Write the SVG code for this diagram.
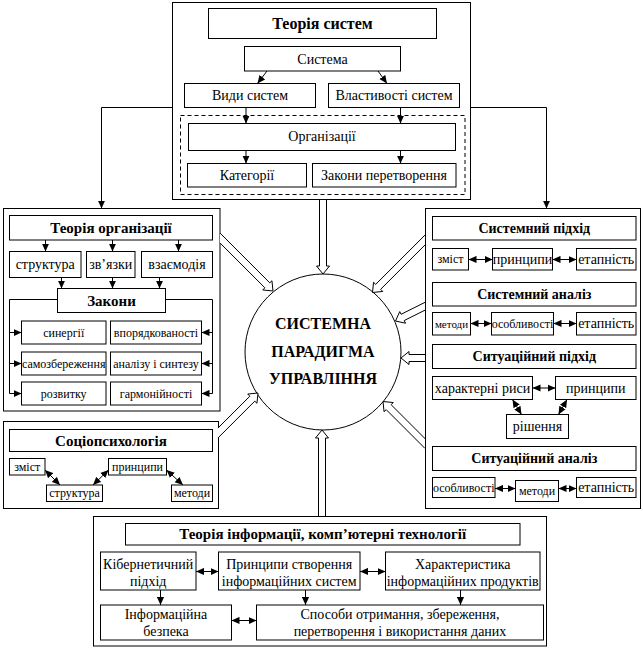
<svg xmlns="http://www.w3.org/2000/svg" width="643" height="648" viewBox="0 0 643 648" font-family="'Liberation Serif', 'DejaVu Serif', serif">
<defs>
<marker id="ah" viewBox="0 0 10 10" refX="10" refY="5" markerWidth="8" markerHeight="8" markerUnits="userSpaceOnUse" orient="auto-start-reverse"><path d="M0,0.5 L10,5 L0,9.5 z" fill="#000"/></marker>
</defs>
<style>
rect{fill:#fff;stroke:#000;stroke-width:1}
.dash{fill:none;stroke-dasharray:4,3}
text{font-family:'Liberation Serif','DejaVu Serif',serif;fill:#000;text-anchor:middle;dominant-baseline:central}
.t14{font-size:14px}
.t12{font-size:12px}
.t11{font-size:11px}
.b{font-weight:bold;font-size:15px}
.c{font-weight:bold;font-size:16px}
.ln{fill:none;stroke:#000;stroke-width:1}
.a1{marker-end:url(#ah)}
.a2{marker-start:url(#ah);marker-end:url(#ah)}
.ha{fill:#fff;stroke:#000;stroke-width:1}
</style>
<rect x="0" y="0" width="643" height="648" style="stroke:none"/>

<g id="teoriya-system">
<rect x="172.5" y="2.5" width="298" height="197"/>
<rect x="208.5" y="8.5" width="228" height="30"/>
<text class="c" x="322.5" y="23.5">Теорія систем</text>
<rect x="244.5" y="46.5" width="156" height="24.5"/>
<text class="t14" x="322.5" y="59">Система</text>
<rect x="184.5" y="83.5" width="131" height="24"/>
<text class="t14" x="250" y="95.5">Види систем</text>
<rect x="328.5" y="83.5" width="131" height="24"/>
<text class="t14" x="394" y="95.5">Властивості систем</text>
<rect class="dash" x="180.5" y="115.5" width="284.5" height="79"/>
<rect x="188.5" y="123.5" width="267" height="27"/>
<text class="t14" x="322" y="136">Організації</text>
<rect x="187.5" y="163.5" width="119" height="23.5"/>
<text class="t14" x="247" y="175">Категорії</text>
<rect x="312.5" y="163.5" width="143.5" height="23.5"/>
<text class="t14" x="384" y="175">Закони перетворення</text>
</g>

<g id="teoriya-organizatsii">
<rect x="3.5" y="208.5" width="216.5" height="202.5"/>
<rect x="9.5" y="215.5" width="203" height="24.5"/>
<text class="b" x="111" y="227.5">Теорія організації</text>
<rect x="9.5" y="251.5" width="71.5" height="26"/>
<text class="t14" x="45.2" y="264.5">структура</text>
<rect x="86.5" y="251.5" width="48.5" height="26"/>
<text class="t14" x="110.7" y="264.5">зв’язки</text>
<rect x="141.5" y="251.5" width="71" height="26"/>
<text class="t14" x="177" y="264.5">взаємодія</text>
<rect x="57.5" y="288.5" width="108" height="24"/>
<text class="b" x="111.5" y="300.5">Закони</text>
<rect x="21.5" y="321" width="84.5" height="23"/>
<text class="t12" x="63.7" y="332.5">синергії</text>
<rect x="110.5" y="321" width="91" height="23"/>
<text class="t12" x="156" y="332.5">впорядкованості</text>
<rect x="21.5" y="352" width="84.5" height="23"/>
<text class="t12" x="63.7" y="363.5">самозбереження</text>
<rect x="110.5" y="352" width="91" height="23"/>
<text class="t12" x="156" y="363.5">аналізу і синтезу</text>
<rect x="21.5" y="382" width="84.5" height="23"/>
<text class="t12" x="63.7" y="393.5">розвитку</text>
<rect x="110.5" y="382" width="91" height="23"/>
<text class="t12" x="156" y="393.5">гармонійності</text>
</g>

<g id="sotsiopsykholohiya">
<rect x="3.5" y="421.5" width="215" height="87"/>
<rect x="9.5" y="429.5" width="203" height="22"/>
<text class="b" x="111" y="440.5">Соціопсихологія</text>
<rect x="9.5" y="458.5" width="35.5" height="16.5"/>
<text class="t12" x="27.2" y="466.7">зміст</text>
<rect x="46.5" y="485" width="56" height="16.5"/>
<text class="t12" x="74.5" y="493.2">структура</text>
<rect x="108.5" y="458.5" width="58" height="16.5"/>
<text class="t12" x="137.5" y="466.7">принципи</text>
<rect x="171.5" y="485" width="41" height="16.5"/>
<text class="t12" x="192" y="493.2">методи</text>
</g>

<g id="pravyi-blok">
<rect x="425.5" y="208.5" width="215" height="300"/>
<rect x="432.5" y="216.5" width="203.5" height="23.5"/>
<text class="b" x="534.3" y="228.3" style="font-size:14px">Системний підхід</text>
<rect x="432.5" y="248.5" width="36" height="21.5"/>
<text class="t12" x="450.5" y="259.2">зміст</text>
<rect x="492.5" y="248.5" width="60" height="21.5"/>
<text class="t14" x="522.5" y="259.2">принципи</text>
<rect x="576.5" y="248.5" width="59.5" height="21.5"/>
<text class="t14" x="606.2" y="259.2">етапність</text>
<rect x="432.5" y="282.5" width="203.5" height="23.5"/>
<text class="b" x="534.3" y="294.3" style="font-size:14px">Системний аналіз</text>
<rect x="432.5" y="312.5" width="38" height="22.5"/>
<text class="t11" x="451.5" y="323.7">методи</text>
<rect x="491.5" y="312.5" width="62" height="22.5"/>
<text class="t12" x="522.5" y="323.7">особливості</text>
<rect x="576.5" y="312.5" width="59.5" height="22.5"/>
<text class="t14" x="606.2" y="323.7">етапність</text>
<rect x="432.5" y="344.5" width="203.5" height="24"/>
<text class="b" x="534.3" y="356.5" style="font-size:14px">Ситуаційний підхід</text>
<rect x="432.5" y="376.5" width="100" height="23"/>
<text class="t14" x="482.5" y="388">характерні риси</text>
<rect x="555.5" y="376.5" width="80.5" height="23"/>
<text class="t14" x="595.7" y="388">принципи</text>
<rect x="506.5" y="414.5" width="62" height="24"/>
<text class="t14" x="537.5" y="426.5">рішення</text>
<rect x="432.5" y="446.5" width="203.5" height="24"/>
<text class="b" x="534.3" y="458.5" style="font-size:14px">Ситуаційний аналіз</text>
<rect x="432.5" y="477.5" width="62.5" height="20"/>
<text class="t12" x="463.7" y="487.5">особливості</text>
<rect x="515.5" y="480.5" width="43" height="21"/>
<text class="t12" x="537" y="491">методи</text>
<rect x="576.5" y="477.5" width="59.5" height="20"/>
<text class="t14" x="606.2" y="487.5">етапність</text>
</g>

<g id="teoriya-informatsii">
<rect x="93.5" y="516.5" width="453" height="129.5"/>
<rect x="125.5" y="523.5" width="394.5" height="21.5"/>
<text class="b" x="322.7" y="534.2">Теорія інформації, комп’ютерні технології</text>
<rect x="100.5" y="552" width="95.5" height="38"/>
<text class="t14" x="148.2" y="564">Кібернетичний</text>
<text class="t14" x="148.2" y="581">підхід</text>
<rect x="218.5" y="552" width="141.5" height="38"/>
<text class="t14" x="289.2" y="564">Принципи створення</text>
<text class="t14" x="289.2" y="581">інформаційних систем</text>
<rect x="385.5" y="552" width="154.5" height="38"/>
<text class="t14" x="462.7" y="564">Характеристика</text>
<text class="t14" x="462.7" y="581">інформаційних продуктів</text>
<rect x="100.5" y="605" width="131" height="35"/>
<text class="t14" x="166" y="614.5">Інформаційна</text>
<text class="t14" x="166" y="631">безпека</text>
<rect x="256.5" y="605" width="287" height="35"/>
<text class="t14" x="400" y="614.5">Способи отримання, збереження,</text>
<text class="t14" x="400" y="631">перетворення і використання даних</text>
</g>

<g id="paradyhma">
<circle cx="323" cy="352" r="78" fill="#fff" stroke="#000" stroke-width="1"/>
<text class="c" x="323" y="323.5">СИСТЕМНА</text>
<text class="c" x="323" y="351">ПАРАДИГМА</text>
<text class="c" x="323" y="378.5">УПРАВЛІННЯ</text>
</g>

<g id="connectors">
<polyline class="ln a1" points="172.5,107.5 101.5,107.5 101.5,208.5"/>
<polyline class="ln a1" points="470.5,107.5 546.5,107.5 546.5,208.5"/>
<line class="ln a1" x1="267" y1="71" x2="257.5" y2="83.5"/>
<line class="ln a1" x1="378" y1="71" x2="387" y2="83.5"/>
<line class="ln a1" x1="246" y1="107.5" x2="246" y2="123.5"/>
<line class="ln a1" x1="400.5" y1="107.5" x2="400.5" y2="123.5"/>
<line class="ln a1" x1="246" y1="150.5" x2="246" y2="163.5"/>
<line class="ln a1" x1="400.5" y1="150.5" x2="400.5" y2="163.5"/>

<line class="ln a1" x1="45.5" y1="240" x2="45.5" y2="251.5"/>
<line class="ln a1" x1="112.5" y1="240" x2="112.5" y2="251.5"/>
<line class="ln a1" x1="178.5" y1="240" x2="178.5" y2="251.5"/>
<line class="ln a1" x1="61.5" y1="277.5" x2="61.5" y2="288.5"/>
<line class="ln a1" x1="112.5" y1="277.5" x2="112.5" y2="288.5"/>
<line class="ln a1" x1="159.5" y1="277.5" x2="159.5" y2="288.5"/>
<polyline class="ln" points="57.5,299.5 9.5,299.5 9.5,393.5"/>
<polyline class="ln" points="165.5,299.5 212.5,299.5 212.5,393.5"/>
<line class="ln a1" x1="9.5" y1="332.5" x2="21.5" y2="332.5"/>
<line class="ln a1" x1="9.5" y1="363.5" x2="21.5" y2="363.5"/>
<line class="ln a1" x1="9.5" y1="393.5" x2="21.5" y2="393.5"/>
<line class="ln a1" x1="212.5" y1="332.5" x2="201.5" y2="332.5"/>
<line class="ln a1" x1="212.5" y1="363.5" x2="201.5" y2="363.5"/>
<line class="ln a1" x1="212.5" y1="393.5" x2="201.5" y2="393.5"/>

<line class="ln a2" x1="45" y1="470" x2="60" y2="485"/>
<line class="ln a2" x1="93" y1="485" x2="108.5" y2="470"/>
<line class="ln a2" x1="166.5" y1="470" x2="183" y2="485"/>

<line class="ln a2" x1="468.5" y1="259.5" x2="492.5" y2="259.5"/>
<line class="ln a2" x1="552.5" y1="259.5" x2="576.5" y2="259.5"/>
<line class="ln a2" x1="470.5" y1="323.5" x2="491.5" y2="323.5"/>
<line class="ln a2" x1="553.5" y1="323.5" x2="576.5" y2="323.5"/>
<line class="ln a2" x1="532.5" y1="388" x2="555.5" y2="388"/>
<line class="ln a2" x1="512.5" y1="399.5" x2="521.5" y2="414.5"/>
<line class="ln a2" x1="567" y1="399.5" x2="558.5" y2="414.5"/>
<line class="ln a2" x1="495" y1="488.5" x2="515.5" y2="488.5"/>
<line class="ln a2" x1="558.5" y1="488.5" x2="576.5" y2="488.5"/>

<line class="ln a2" x1="196" y1="571.5" x2="218.5" y2="571.5"/>
<line class="ln a2" x1="360" y1="571.5" x2="385.5" y2="571.5"/>
<line class="ln a1" x1="160.5" y1="590" x2="160.5" y2="605"/>
<line class="ln a1" x1="305.5" y1="590" x2="305.5" y2="605"/>
<line class="ln a1" x1="460.5" y1="590" x2="460.5" y2="605"/>
<line class="ln a2" x1="231.5" y1="620.5" x2="256.5" y2="620.5"/>

<path class="ha" d="M319.5,200 L319.5,266 L316.5,266 L323,274 L329.5,266 L326.5,266 L326.5,200"/>
<path class="ha" d="M318.5,516 L318.5,438 L315.5,438 L322,430 L328.5,438 L325.5,438 L325.5,516"/>
<path class="ha" d="M220,233.06 L269.81,282.87 L271.94,280.74 L273,291 L262.74,289.94 L264.87,287.81 L220,242.94"/>
<path class="ha" d="M425,244.94 L380.63,289.31 L382.76,291.44 L372.5,292.5 L373.56,282.24 L375.69,284.37 L425,235.06"/>
<path class="ha" d="M425,310.15 L404.21,320.55 L405.56,323.23 L395.5,321 L399.74,311.61 L401.09,314.29 L425,302.33"/>
<path class="ha" d="M425,354.5 L409,354.5 L409,351.5 L401,358 L409,364.5 L409,361.5 L425,361.5"/>
<path class="ha" d="M425,438.56 L391.13,404.69 L393.26,402.56 L383,401.5 L384.06,411.76 L386.19,409.63 L425,448.44"/>
<path class="ha" d="M218,428.06 L249.87,396.19 L247.74,394.06 L258,393 L256.94,403.26 L254.81,401.13 L218,437.94"/>
</g>
</svg>
